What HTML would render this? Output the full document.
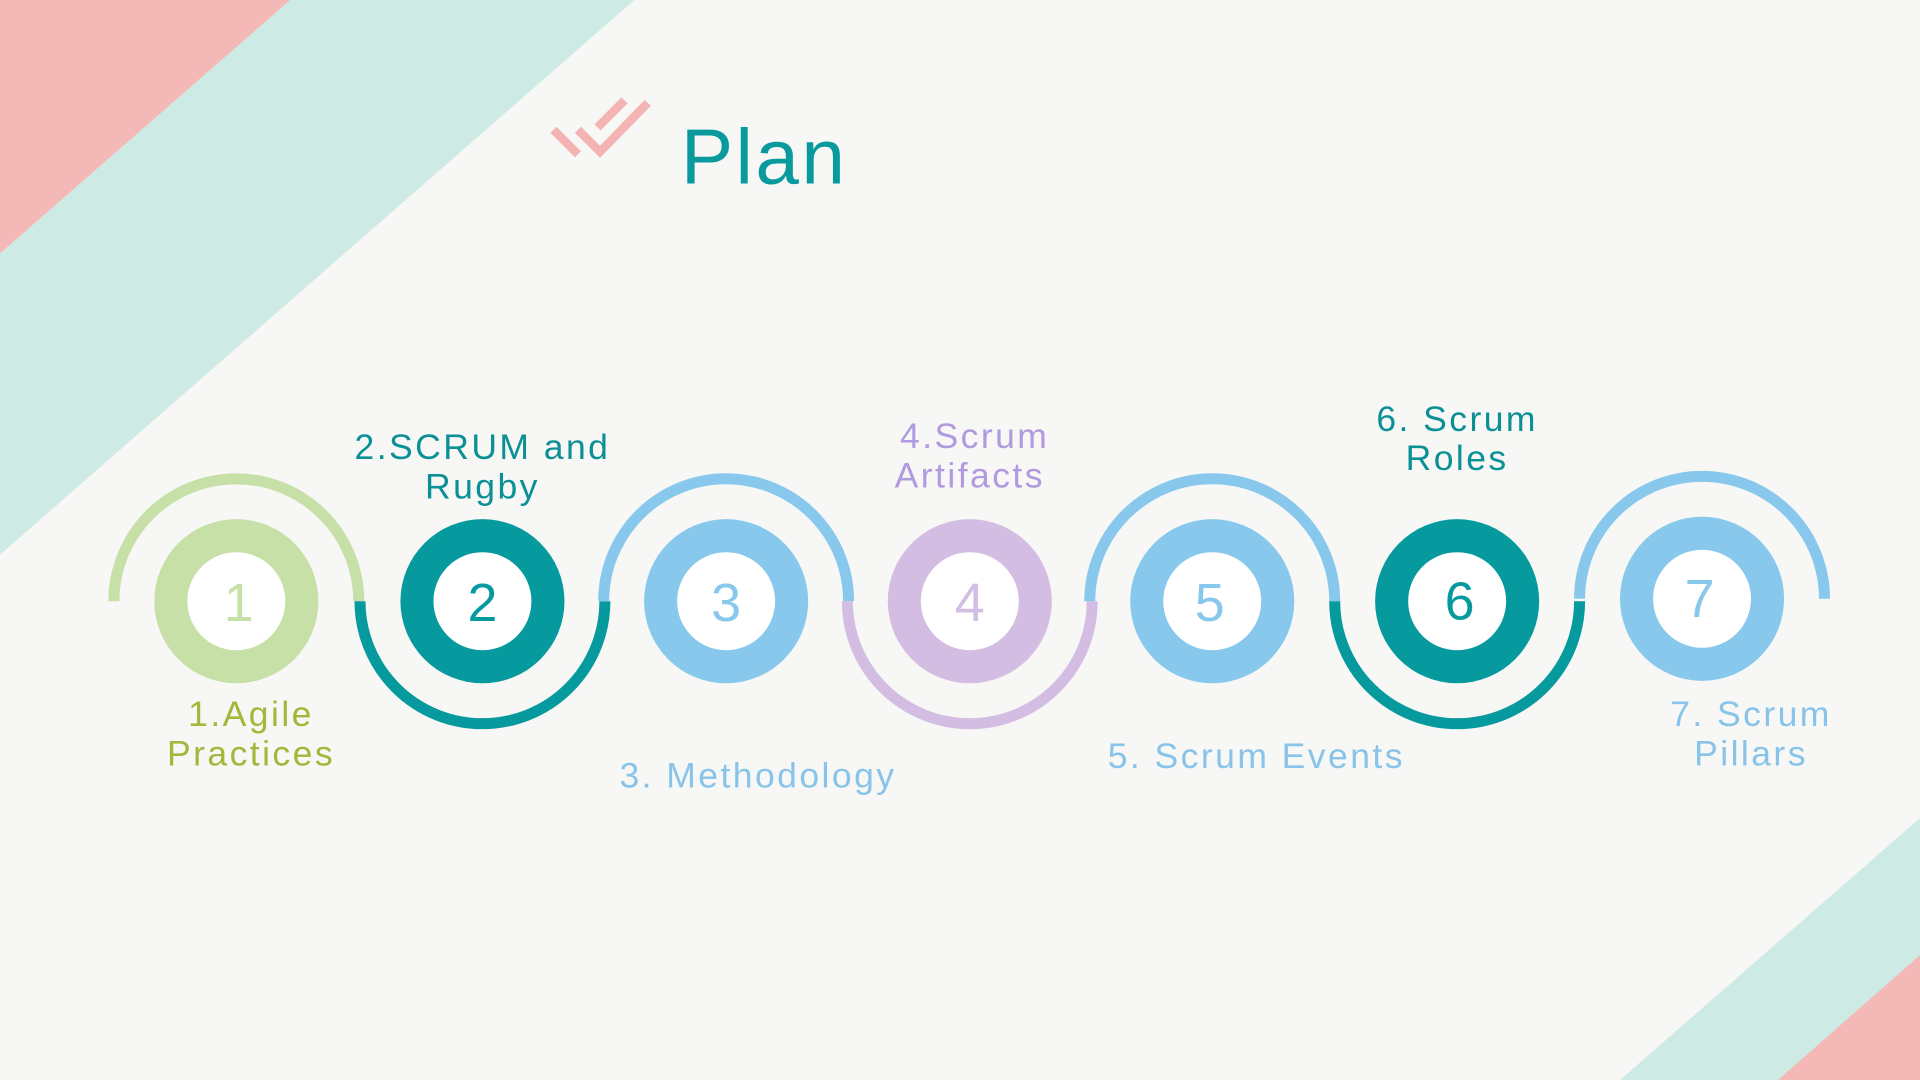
<!DOCTYPE html>
<html><head><meta charset="utf-8"><style>
html,body{margin:0;padding:0;width:1920px;height:1080px;overflow:hidden;background:#f7f7f5}
svg{display:block}
text{font-family:"Liberation Sans",sans-serif}
</style></head><body>
<svg width="1920" height="1080" viewBox="0 0 1568 882" xmlns="http://www.w3.org/2000/svg">
<rect width="1568" height="882" fill="#f7f7f5"/>
<polygon points="237,0 518,0 0,453 0,207" fill="#cdebe4"/>
<polygon points="0,0 237,0 0,207" fill="#f4b8b7"/>
<polygon points="1568,668 1568,882 1323,882" fill="#cdebe4"/>
<polygon points="1568,780 1568,882 1452,882" fill="#f4b8b7"/>
<g stroke="#f4b4b4" stroke-width="7" fill="none">
<polyline points="452,106 472,126"/>
<polyline points="472,106 490,124 529,84"/>
<polyline points="488,104 510,82"/>
</g>
<text x="556" y="150" font-size="64" fill="#0a9a9e" letter-spacing="2">Plan</text>
<g fill="none" stroke-width="9">
<path d="M93,491 A100,100 0 0 1 293,491" stroke="#c6e0a8"/>
<path d="M294,491 A100,100 0 0 0 494,491" stroke="#069a9e"/>
<path d="M493,491 A100,100 0 0 1 693,491" stroke="#88c8ec"/>
<path d="M692,491 A100,100 0 0 0 892,491" stroke="#d4bde2"/>
<path d="M890,491 A100,100 0 0 1 1090,491" stroke="#88c8ec"/>
<path d="M1090,491 A100,100 0 0 0 1290,491" stroke="#069a9e"/>
<path d="M1290,489 A100,100 0 0 1 1490,489" stroke="#88c8ec"/>
</g>
<g>
<circle cx="193" cy="491" r="67" fill="#c6e0a8"/><circle cx="193" cy="491" r="40" fill="#fff"/>
<circle cx="394" cy="491" r="67" fill="#069a9e"/><circle cx="394" cy="491" r="40" fill="#fff"/>
<circle cx="593" cy="491" r="67" fill="#88c8ec"/><circle cx="593" cy="491" r="40" fill="#fff"/>
<circle cx="792" cy="491" r="67" fill="#d4bde2"/><circle cx="792" cy="491" r="40" fill="#fff"/>
<circle cx="990" cy="491" r="67" fill="#88c8ec"/><circle cx="990" cy="491" r="40" fill="#fff"/>
<circle cx="1190" cy="491" r="67" fill="#069a9e"/><circle cx="1190" cy="491" r="40" fill="#fff"/>
<circle cx="1390" cy="489" r="67" fill="#88c8ec"/><circle cx="1390" cy="489" r="40" fill="#fff"/>
</g>
<g font-size="44" text-anchor="middle">
<text x="195" y="507" fill="#c6e0a8">1</text>
<text x="394" y="507" fill="#069a9e">2</text>
<text x="593" y="507" fill="#88c8ec">3</text>
<text x="792" y="507" fill="#d4bde2">4</text>
<text x="988" y="507" fill="#88c8ec">5</text>
<text x="1192" y="506" fill="#069a9e">6</text>
<text x="1388" y="504" fill="#88c8ec">7</text>
</g>
<g font-size="29" text-anchor="middle" letter-spacing="2">
<text x="205" y="593" fill="#a2b83a">1.Agile</text>
<text x="205" y="625" fill="#a2b83a">Practices</text>
<text x="394" y="375" fill="#0a9095">2.SCRUM and</text>
<text x="394" y="407" fill="#0a9095">Rugby</text>
<text x="619" y="643" fill="#88c4ea">3. Methodology</text>
<text x="796" y="366" fill="#b09ae0">4.Scrum</text>
<text x="792" y="398" fill="#b09ae0">Artifacts</text>
<text x="1026" y="627" fill="#88c4ea">5. Scrum Events</text>
<text x="1190" y="352" fill="#0a9095">6. Scrum</text>
<text x="1190" y="384" fill="#0a9095">Roles</text>
<text x="1430" y="593" fill="#88c4ea">7. Scrum</text>
<text x="1430" y="625" fill="#88c4ea">Pillars</text>
</g>
</svg>
</body></html>
